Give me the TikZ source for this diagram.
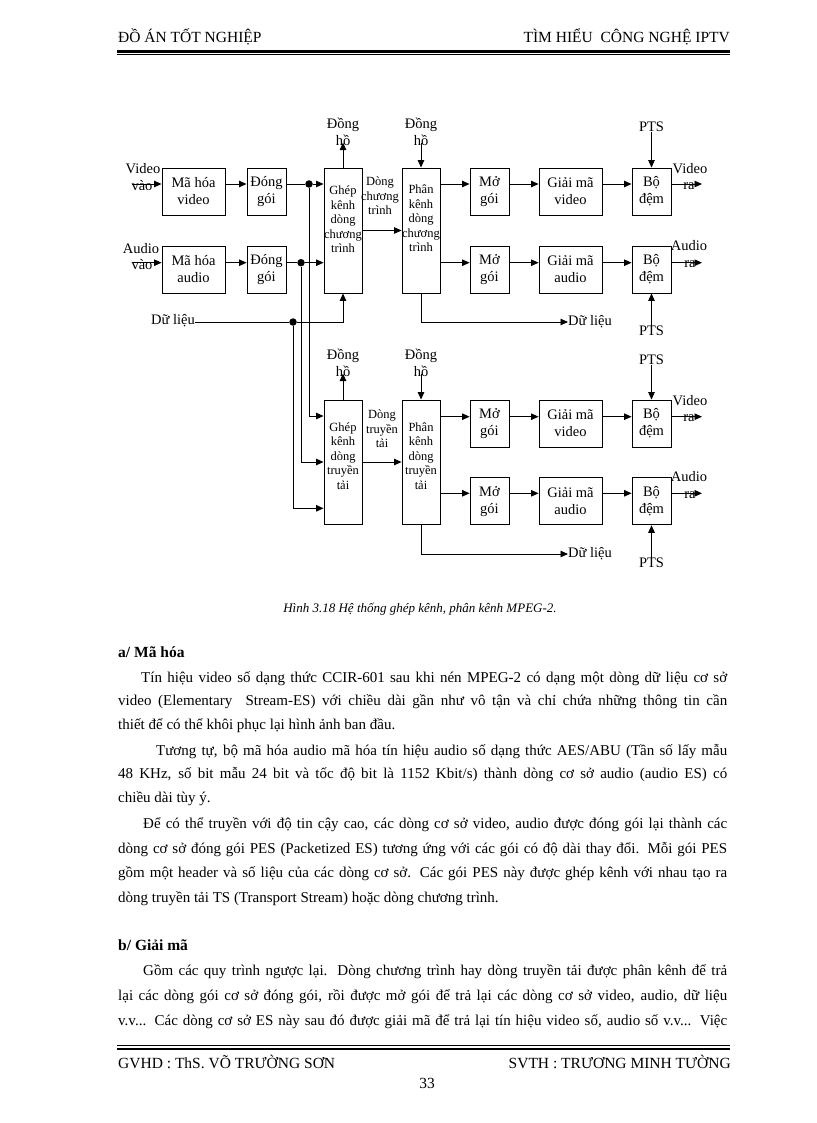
\documentclass[tikz,border=0pt]{standalone}
\usepackage{fontspec}
\setmainfont{Liberation Serif}
\usetikzlibrary{arrows.meta}
\newcommand{\jline}[4]{\node[body] (#1) at (#2,#3) {\hbox to \dimexpr727pt-#2pt\relax{#4}};}
\begin{document}
\begin{tikzpicture}[x=1pt,y=-1pt,
  box/.style={draw, line width=0.9pt, inner sep=0pt, font=\fontsize{14.5}{17}\selectfont, align=center},
  lbl/.style={inner sep=0pt, font=\fontsize{14.5}{17}\selectfont, align=center},
  sml/.style={inner sep=0pt, font=\fontsize{12.5}{14.5}\selectfont, align=center},
  arr/.style={line width=0.9pt, -{Triangle[length=7.5pt,width=6.5pt]}},
  ln/.style={line width=0.9pt},
  dot/.style={circle, fill, inner sep=0pt, minimum size=7.5pt},
  body/.style={inner sep=0pt, anchor=base west, font=\fontsize{15}{24}\selectfont},
  small/.style={minimum width=39pt, minimum height=47pt},
  wide/.style={minimum width=63pt, minimum height=47pt},
  tall/.style={minimum width=38pt, minimum height=125pt},
]
\useasboundingbox (0,0) rectangle (816,1123);

% ---------- header ----------
\node[body, font=\fontsize{15.5}{18}\selectfont] (h1) at (118,43) {ĐỒ ÁN TỐT NGHIỆP};
\node[body, anchor=base east, font=\fontsize{15.5}{18}\selectfont] (h2) at (730,43) {TÌM HIỂU\ \ CÔNG NGHỆ IPTV};
\draw[line width=2.2pt] (117,51.5) -- (730,51.5);
\draw[line width=0.8pt] (117,54.8) -- (730,54.8);

% ---------- row coordinates ----------
\coordinate (rV) at (0,184);
\coordinate (rA) at (0,262.7);
\coordinate (rV2) at (0,416.7);
\coordinate (rA2) at (0,493.3);
\coordinate (iV2) at (0,416);
\coordinate (iD2) at (0,508.3);

% ---------- upper half: boxes ----------
\node[box, wide] (encV) at (193.5,191.5) {Mã hóa\\video};
\node[box, small] (pkV) at (266.5,191.5) {Đóng\\gói};
\node[box, wide] (encA) at (193.5,269.5) {Mã hóa\\audio};
\node[box, small] (pkA) at (266.5,269.5) {Đóng\\gói};
\node[box, tall] (muxP) at (343,230.5) {};
\node[sml] (muxPt) at (343,219.5) {Ghép\\kênh\\dòng\\chương\\trình};
\node[box, tall] (demP) at (421,230.5) {};
\node[sml] (demPt) at (421,218.5) {Phân\\kênh\\dòng\\chương\\trình};
\node[box, small] (upV) at (489.5,191.5) {Mở\\gói};
\node[box, wide] (decV) at (570.5,191.5) {Giải mã\\video};
\node[box, small] (bufV) at (651.5,191.5) {Bộ\\đệm};
\node[box, small] (upA) at (489.5,269.5) {Mở\\gói};
\node[box, wide] (decA) at (570.5,269.5) {Giải mã\\audio};
\node[box, small] (bufA) at (651.5,269.5) {Bộ\\đệm};

% ---------- lower half: boxes ----------
\node[box, tall, minimum height=124pt] (muxT) at (343,462) {};
\node[sml] (muxTt) at (343,455.8) {Ghép\\kênh\\dòng\\truyền\\tải};
\node[box, tall, minimum height=124pt] (demT) at (421,462) {};
\node[sml] (demTt) at (421,456) {Phân\\kênh\\dòng\\truyền\\tải};
\node[box, small] (upV2) at (489.5,423.5) {Mở\\gói};
\node[box, wide] (decV2) at (570.5,423.5) {Giải mã\\video};
\node[box, small] (bufV2) at (651.5,423.5) {Bộ\\đệm};
\node[box, small] (upA2) at (489.5,501.3) {Mở\\gói};
\node[box, wide] (decA2) at (570.5,501.3) {Giải mã\\audio};
\node[box, small] (bufA2) at (651.5,501.3) {Bộ\\đệm};

% ---------- inputs ----------
\node[lbl] (vinT) at (143,169) {Video};
\node[lbl] (vinR) at (142,186) {vào};
\coordinate (vin) at (132,184);
\node[lbl] (ainT) at (141,249) {Audio};
\node[lbl] (ainR) at (142,265) {vào};
\coordinate (ain) at (132,262.7);
\node[lbl, anchor=east] (din) at (195,321) {Dữ liệu};

\draw[arr] (vin) -- (encV.west |- vin);
\draw[arr] (encV.east |- rV) -- (pkV.west |- rV);
\draw[arr] (ain) -- (encA.west |- ain);
\draw[arr] (encA.east |- rA) -- (pkA.west |- rA);

\node[dot] (dV) at (309,184) {};
\node[dot] (dA) at (301,262.7) {};
\node[dot] (dD) at (293,322) {};
\draw[ln] (pkV.east |- dV) -- (dV);
\draw[arr] (dV) -- (muxP.west |- dV);
\draw[ln] (pkA.east |- dA) -- (dA);
\draw[arr] (dA) -- (muxP.west |- dA);
\draw[ln] (din.east |- dD) -- (dD);
\draw[arr] (dD) -| (muxP.south);

% buses to the transport mux
\draw[arr] (dV) |- (muxT.west |- iV2);
\draw[arr] (dA) |- (muxT.west);
\draw[arr] (dD) |- (muxT.west |- iD2);

% ---------- clocks ----------
\node[lbl] (ckP) at (343,131.5) {Đồng\\hồ};
\node[lbl] (ckD) at (421,131.5) {Đồng\\hồ};
\node[lbl] (ckT) at (343,362.5) {Đồng\\hồ};
\node[lbl] (ckDT) at (421,362.5) {Đồng\\hồ};
\draw[arr] (muxP.north) -- ([yshift=3pt]ckP.south);
\draw[arr] ([yshift=3pt]ckD.south) -- (demP.north);
\draw[arr] (muxT.north) -- ([yshift=3pt]ckT.south);
\draw[arr] ([yshift=3pt]ckDT.south) -- (demT.north);

% ---------- mux -> demux ----------
\draw[arr] (muxP.east) -- (demP.west);
\node[sml] (sP) at (380,196) {Dòng\\chương\\trình};
\draw[arr] (muxT.east) -- (demT.west);
\node[sml] (sT) at (382,429) {Dòng\\truyền\\tải};

% ---------- demux chains (upper) ----------
\draw[arr] (demP.east |- rV) -- (upV.west |- rV);
\draw[arr] (upV.east |- rV) -- (decV.west |- rV);
\draw[arr] (decV.east |- rV) -- (bufV.west |- rV);
\draw[arr] (demP.east |- rA) -- (upA.west |- rA);
\draw[arr] (upA.east |- rA) -- (decA.west |- rA);
\draw[arr] (decA.east |- rA) -- (bufA.west |- rA);

\node[lbl] (ptsV) at (651.5,127) {PTS};
\draw[arr] (ptsV.south) -- (bufV.north);
\node[lbl] (ptsA) at (651.5,331) {PTS};
\draw[arr] (ptsA.north) -- (bufA.south);

\coordinate (oV) at (702,184);
\draw[arr] (bufV.east |- oV) -- (oV);
\node[lbl] (oVt) at (690,169) {Video};
\node[lbl] (oVr) at (689,186) {ra};
\coordinate (oA) at (702,262.7);
\draw[arr] (bufA.east |- oA) -- (oA);
\node[lbl] (oAt) at (689,246) {Audio};
\node[lbl] (oAr) at (690,264) {ra};

\node[lbl, anchor=west] (doP) at (568,322) {Dữ liệu};
\draw[arr] (demP.south) |- (doP.west);

% ---------- demux chains (lower) ----------
\draw[arr] (demT.east |- rV2) -- (upV2.west |- rV2);
\draw[arr] (upV2.east |- rV2) -- (decV2.west |- rV2);
\draw[arr] (decV2.east |- rV2) -- (bufV2.west |- rV2);
\draw[arr] (demT.east |- rA2) -- (upA2.west |- rA2);
\draw[arr] (upA2.east |- rA2) -- (decA2.west |- rA2);
\draw[arr] (decA2.east |- rA2) -- (bufA2.west |- rA2);

\node[lbl] (ptsV2) at (651.5,360) {PTS};
\draw[arr] (ptsV2.south) -- (bufV2.north);
\node[lbl] (ptsA2) at (651.5,563) {PTS};
\draw[arr] (ptsA2.north) -- (bufA2.south);

\coordinate (oV2) at (702,416.7);
\draw[arr] (bufV2.east |- oV2) -- (oV2);
\node[lbl] (oV2t) at (690,401) {Video};
\node[lbl] (oV2r) at (689,418) {ra};
\coordinate (oA2) at (702,493.3);
\draw[arr] (bufA2.east |- oA2) -- (oA2);
\node[lbl] (oA2t) at (689,477) {Audio};
\node[lbl] (oA2r) at (690,495) {ra};

\node[lbl, anchor=west] (doT) at (568,554) {Dữ liệu};
\draw[arr] (demT.south) |- (doT.west);

% ---------- caption ----------
\node[inner sep=0pt, anchor=base, font=\fontsize{13}{15}\selectfont\itshape] (cap) at (420,612) {Hình 3.18 Hệ thống ghép kênh, phân kênh MPEG-2.};

% ---------- body text ----------
\node[body, font=\fontsize{15.5}{24}\selectfont\bfseries] (ha) at (118,657) {a/ Mã hóa};
\jline{p1a}{141}{682}{Tín hiệu video số dạng thức CCIR-601 sau khi nén MPEG-2 có dạng một dòng dữ liệu cơ sở}
\jline{p1b}{118}{705}{video (Elementary\ \ Stream-ES) với chiều dài gần như vô tận và chỉ chứa những thông tin cần}
\node[body] (p1c) at (118,729) {thiết để có thể khôi phục lại hình ảnh ban đầu.};

\jline{p2a}{156}{755}{Tương tự, bộ mã hóa audio mã hóa tín hiệu audio số dạng thức AES/ABU (Tần số lấy mẫu}
\jline{p2b}{118}{778}{48 KHz, số bit mẫu 24 bit và tốc độ bit là 1152 Kbit/s) thành dòng cơ sở audio (audio ES) có}
\node[body] (p2c) at (118,802) {chiều dài tùy ý.};

\jline{p3a}{143}{828}{Để có thể truyền với độ tin cậy cao, các dòng cơ sở video, audio được đóng gói lại thành các}
\jline{p3b}{118}{853}{dòng cơ sở đóng gói PES (Packetized ES) tương ứng với các gói có độ dài thay đổi. Mỗi gói PES}
\jline{p3c}{118}{877}{gồm một header và số liệu của các dòng cơ sở. Các gói PES này được ghép kênh với nhau tạo ra}
\node[body] (p3d) at (118,902) {dòng truyền tải TS (Transport Stream) hoặc dòng chương trình.};

\node[body, font=\fontsize{15.5}{24}\selectfont\bfseries] (hb) at (118,950) {b/ Giải mã};
\jline{p4a}{143}{975}{Gồm các quy trình ngược lại. Dòng chương trình hay dòng truyền tải được phân kênh để trả}
\jline{p4b}{118}{1000}{lại các dòng gói cơ sở đóng gói, rồi được mở gói để trả lại các dòng cơ sở video, audio, dữ liệu}
\jline{p4c}{118}{1025}{v.v... Các dòng cơ sở ES này sau đó được giải mã để trả lại tín hiệu video số, audio số v.v... Việc}

% ---------- footer ----------
\draw[line width=0.8pt] (117,1045.5) -- (730,1045.5);
\draw[line width=2.2pt] (117,1049) -- (730,1049);
\node[body, font=\fontsize{15.5}{18}\selectfont] (f1) at (118,1068) {GVHD : ThS. VÕ TRƯỜNG SƠN};
\node[body, anchor=base east, font=\fontsize{15.5}{18}\selectfont] (f2) at (731,1068) {SVTH : TRƯƠNG MINH TƯỜNG};
\node[body, anchor=base, font=\fontsize{15.5}{18}\selectfont] (pg) at (427,1088) {33};
\end{tikzpicture}
\end{document}
